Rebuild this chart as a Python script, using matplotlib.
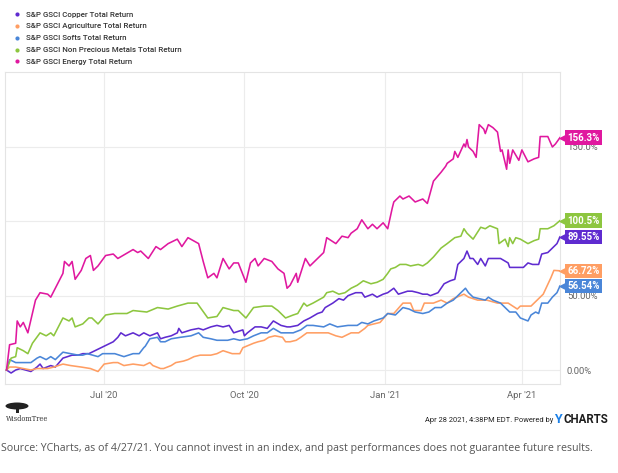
import numpy as np
import matplotlib
matplotlib.use("Agg")
import matplotlib.pyplot as plt
from matplotlib.lines import Line2D
from matplotlib.patches import Ellipse, Rectangle

# ---------------- data (days since 2020-04-28, total return %) ----------------
start_date = np.datetime64('2020-04-28')

series_names = ["S&P GSCI Copper Total Return",
                "S&P GSCI Agriculture Total Return",
                "S&P GSCI Softs Total Return",
                "S&P GSCI Non Precious Metals Total Return",
                "S&P GSCI Energy Total Return"]
series_colors = ["#5f2bd0", "#ff9e63", "#4a86d8", "#8dc63f", "#e0189f"]
end_labels = ["89.55%", "66.72%", "56.54%", "100.5%", "156.3%"]

energy_days = [0, 2, 6, 7, 9, 11, 14, 19, 22, 27, 29, 32, 37, 38, 41, 43, 45, 49, 52, 55, 57, 60, 65, 70, 73, 78,
               83, 86, 88, 93, 98, 101, 106, 112, 115, 119, 126, 129, 132, 136, 138, 142, 146, 149, 152, 157, 160,
               163, 165, 169, 174, 178, 182, 184, 186, 190, 191, 196, 199, 204, 208, 210, 216, 220, 224, 226, 230,
               233, 237, 240, 243, 247, 250, 253, 254, 258, 260, 264, 268, 273, 276, 280, 285, 288, 289, 293, 294,
               296, 300, 301, 302, 303, 306, 308, 310, 313, 314, 316, 319, 322, 324, 325, 328, 329, 330, 332, 336,
               338, 342, 346, 349, 350, 355, 358, 360, 363]
energy_vals = [0, 17, 18, 33, 29, 32, 25, 47, 52, 51, 49, 55, 65, 73, 70, 73, 61, 67, 75, 77, 67, 70, 77, 78, 75, 78,
               81, 79, 80, 75, 83, 81, 85, 88, 83, 89, 85, 73, 62, 65, 62, 75, 68, 72, 72, 59, 72,
               75, 70, 75, 73, 68, 65, 55, 57, 65, 59, 75, 70, 75, 79, 89, 85, 90, 89, 92, 95,
               101, 95, 98, 95, 99, 95, 109, 113, 117, 115, 117, 113, 115, 112, 127, 133, 137, 139, 142, 147,
               143, 152, 150, 155, 150, 147, 143, 165, 162, 159, 165, 163, 160, 147, 148, 135, 148, 139, 148, 141,
               148, 140, 142, 143, 157, 157, 150, 152, 156.3]

npm_days = [0, 3, 6, 7, 11, 14, 17, 22, 26, 29, 31, 34, 37, 41, 43, 45, 50, 54, 56, 60, 65, 71, 79, 83, 92, 99,
            106, 112, 119, 125, 132, 138, 142, 149, 152, 157, 162, 169, 174, 178, 183, 188, 191, 195, 197, 201,
            208, 210, 214, 218, 222, 226, 230, 234, 239, 243, 247, 250, 252, 255, 258, 262, 265, 270, 273, 276,
            280, 285, 289, 294, 298, 300, 302, 306, 311, 314, 317, 322, 323, 327, 329, 330, 332, 334, 337, 342,
            346, 349, 350, 355, 359, 363]
npm_vals = [0, 8, 9, 15, 13, 11, 18, 25, 23, 25, 23, 29, 35, 33, 35, 29, 31, 35, 35, 31, 37, 38, 38, 40, 39, 42,
            41, 43, 45, 45, 35, 36, 42, 40, 40, 35, 42, 43, 43, 40, 35, 37, 38, 45, 43, 45,
            49, 52, 53, 51, 52, 55, 57, 60, 58, 59, 61, 65, 68, 69, 71, 71, 70, 71, 70, 72,
            76, 82, 85, 89, 90, 95, 92, 88, 96, 95, 97, 95, 85, 88, 83, 89, 85, 89, 88, 85,
            87, 88, 95, 95, 97, 100.5]

copper_days = [0, 3, 6, 9, 16, 20, 22, 24, 29, 32, 37, 40, 43, 47, 50, 54, 58, 62, 66, 70, 73, 75, 78, 83, 87, 90,
               94, 99, 101, 104, 108, 112, 113, 115, 121, 126, 129, 134, 138, 142, 146, 149, 155, 156, 158, 163,
               167, 171, 175, 180, 184, 186, 191, 195, 199, 204, 207, 209, 214, 218, 221, 224, 229, 233, 235, 240,
               243, 247, 250, 254, 257, 263, 266, 270, 273, 276, 278, 283, 287, 291, 294, 296, 300, 302, 304, 306,
               309, 311, 314, 316, 321, 324, 329, 330, 335, 339, 342, 345, 349, 351, 355, 358, 361, 363]
copper_vals = [0, -2, 0, 1, -1, 2, 4, 1, 3, 2, 8, 9, 10, 10, 11, 11, 13, 15, 17, 19, 22, 25, 23, 25, 23, 25,
               23, 25, 21, 22, 23, 25, 28, 25, 27, 28, 27, 29, 30, 29, 30, 25, 27, 23, 25, 29,
               29, 28, 33, 30, 29, 29, 30, 33, 35, 38, 39, 42, 45, 48, 47, 50, 52, 52, 49, 51,
               49, 51, 52, 55, 51, 53, 53, 52, 51, 51, 50, 52, 58, 60, 61, 71, 75, 80, 75, 75,
               71, 75, 70, 75, 75, 75, 72, 69, 69, 69, 72, 71, 71, 78, 79, 82, 85, 89.55]

softs_days = [0, 2, 6, 9, 16, 20, 22, 26, 29, 32, 37, 42, 47, 50, 53, 60, 63, 66, 71, 77, 83, 87, 90, 91, 94, 99,
              101, 104, 108, 114, 121, 126, 129, 134, 138, 145, 149, 153, 158, 162, 167, 171, 175, 180, 184, 188,
              193, 197, 201, 208, 212, 217, 224, 230, 233, 237, 241, 247, 250, 255, 258, 260, 264, 268, 273, 277,
              281, 285, 289, 293, 298, 301, 303, 306, 310, 314, 316, 319, 324, 327, 330, 334, 337, 342, 344, 347,
              349, 351, 355, 358, 361, 363]
softs_vals = [0, 7, 5, 5, 5, 8, 9, 7, 9, 7, 12, 11, 10, 10, 11, 9, 11, 11, 11, 9, 11, 11, 15, 16, 21, 22,
              19, 19, 21, 22, 23, 25, 22, 21, 20, 20, 21, 20, 21, 23, 25, 25, 28, 25, 25, 25,
              27, 30, 30, 29, 31, 29, 30, 30, 32, 31, 33, 35, 38, 37, 40, 42, 41, 39, 38, 39,
              42, 42, 45, 47, 52, 55, 52, 49, 48, 47, 49, 47, 45, 42, 39, 39, 35, 33, 37, 39,
              38, 45, 45, 49, 52, 56.54]

agri_days = [0, 2, 6, 11, 16, 20, 27, 31, 37, 42, 49, 55, 60, 64, 70, 73, 77, 83, 90, 94, 96, 101, 103, 108, 111,
             116, 119, 123, 127, 134, 138, 142, 145, 148, 153, 155, 162, 165, 169, 172, 176, 181, 183, 186, 190,
             193, 197, 201, 207, 211, 216, 220, 226, 231, 235, 237, 241, 245, 250, 254, 260, 262, 265, 267, 272,
             274, 277, 280, 285, 289, 293, 300, 303, 309, 315, 322, 329, 335, 337, 344, 348, 352, 357, 359, 363]
agri_vals = [0, 2, 2, 1, 0, 1, 1, 2, 4, 3, 2, 1, -1, 4, 5, 5, 3, 4, 3, 5, 3, 1, 1, 3, 5,
             6, 7, 9, 10, 10, 11, 13, 12, 11, 11, 15, 18, 19, 20, 22, 23, 22, 19, 19, 20,
             22, 25, 25, 25, 25, 23, 22, 25, 25, 28, 30, 31, 32, 38, 38, 45, 45, 45, 40, 40,
             45, 45, 45, 47, 45, 48, 51, 49, 47, 47, 45, 45, 41, 43, 43, 47, 51, 62, 67, 66.72]

series_days = [copper_days, agri_days, softs_days, npm_days, energy_days]
series_vals = [copper_vals, agri_vals, softs_vals, npm_vals, energy_vals]

y_ticks = [0, 50, 100, 150]
y_tick_labels = ["0.00%", "50.00%", "100.0%", "150.0%"]
x_tick_dates = ['2020-07-01', '2020-10-01', '2021-01-01', '2021-04-01']
x_tick_labels = ["Jul '20", "Oct '20", "Jan '21", "Apr '21"]

# ---------------- figure ----------------
W, H = 618, 473
fig = plt.figure(figsize=(W / 100, H / 100), dpi=100)
fig.patch.set_facecolor("white")

ax_l, ax_r, ax_t, ax_b = 5, 560, 72, 384
ax = fig.add_axes([ax_l / W, 1 - ax_b / H, (ax_r - ax_l) / W, (ax_b - ax_t) / H])

grid_c = "#ececec"
for d, v, c in zip(series_days, series_vals, series_colors):
    dates = start_date + np.array(d).astype('timedelta64[D]')
    ax.plot(dates, v, color=c, lw=1.15, solid_joinstyle='round', zorder=3)

ax.set_ylim(-9.4, 200.4)
ax.set_xlim(start_date - np.timedelta64(1, 'D'), start_date + np.timedelta64(363, 'D'))

ax.set_yticks(y_ticks)
ax.set_yticklabels(y_tick_labels)
ax.yaxis.tick_right()
ax.tick_params(axis='y', length=0, pad=5, labelsize=6.8, labelcolor="#666666")
for lbl in ax.get_yticklabels():
    lbl.set_fontfamily("Roboto")

ax.set_xticks([np.datetime64(s) for s in x_tick_dates])
ax.set_xticklabels(x_tick_labels)
ax.tick_params(axis='x', length=0, pad=5, labelsize=6.8, labelcolor="#666666")
for lbl in ax.get_xticklabels():
    lbl.set_fontfamily("Roboto")

ax.grid(True, color=grid_c, lw=0.8, zorder=0)
ax.set_axisbelow(True)
for s in ax.spines.values():
    s.set_color("#e4e4e4")
    s.set_linewidth(0.8)

# end-value labels
ytr = ax.get_yaxis_transform()
for v, c, lab in zip(series_vals, series_colors, end_labels):
    yv = v[-1]
    ax.plot([1.006], [yv], marker='<', ms=7.5, color=c, mec='none', transform=ytr, clip_on=False, zorder=5)
    ax.text(1.013, yv, lab, transform=ytr, ha='left', va='center', color='white', fontsize=7,
            fontweight='bold', fontfamily='Roboto', zorder=6,
            bbox=dict(boxstyle='square,pad=0.22', fc=c, ec='none'))

# legend
handles = [Line2D([], [], marker='o', ls='none', ms=3.0, color=c, mec='none') for c in series_colors]
leg = fig.legend(handles, series_names, loc='upper left', bbox_to_anchor=(10 / W, 1 - 7 / H),
                 frameon=False, handlelength=0.7, handletextpad=0.8, labelspacing=0.68,
                 borderpad=0, prop={'family': 'Roboto', 'size': 5.7, 'weight': 'medium'})
for t in leg.get_texts():
    t.set_color("#333333")

# WisdomTree logo (simple drawing) and name
fig.patches.append(Ellipse((17 / W, 1 - 406 / H), 23 / W, 7 / H, transform=fig.transFigure,
                           fc="#222222", ec='none'))
fig.patches.append(Rectangle((16 / W, 1 - 413 / H), 2.5 / W, 6 / H, transform=fig.transFigure,
                             fc="#222222", ec='none'))
fig.text(6 / W, 1 - 418.5 / H, "WisdomTree", fontsize=4.8, family="DejaVu Serif", color="#333333",
         va='center', ha='left', fontvariant='small-caps')

# powered-by line
fig.text(553 / W, 1 - 420 / H, "Apr 28 2021, 4:38PM EDT. Powered by", fontsize=5.4, family="Roboto",
         color="#222222", ha='right', va='center')
fig.text(554 / W, 1 - 419 / H, "Y", fontsize=9, family="Roboto", fontweight='bold', color="#1a7fe6",
         ha='left', va='center')
fig.text(563.5 / W, 1 - 419 / H, "CHARTS", fontsize=8.3, family="Roboto", fontweight='bold', color="#1c1c1c",
         ha='left', va='center')

# source line
fig.text(1 / W, 1 - 448 / H,
         "Source: YCharts, as of 4/27/21. You cannot invest in an index, and past performances does not guarantee future results.",
         fontsize=7.65, family="Open Sans", color="#555555", ha='left', va='center')

fig.savefig("out.png", dpi=100, facecolor="white")
